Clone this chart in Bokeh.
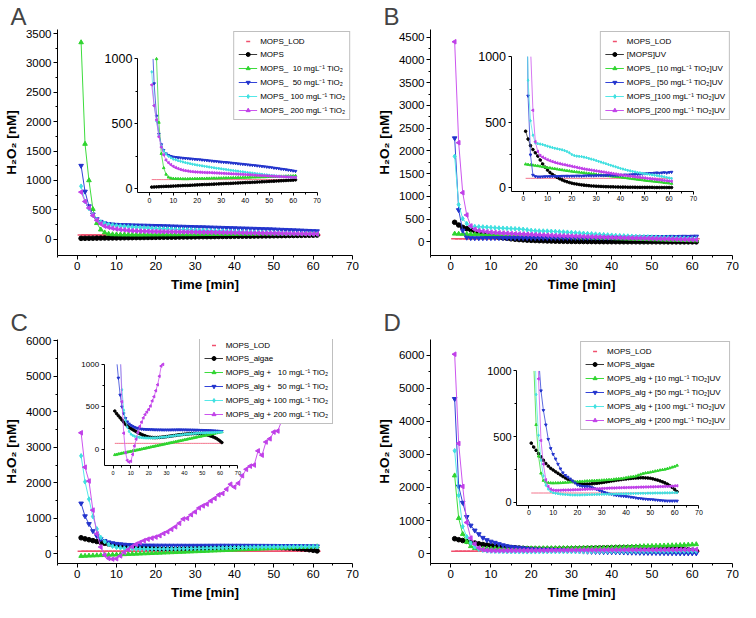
from bokeh.plotting import figure
from bokeh.models import Range1d, LinearAxis, FixedTicker, Legend, LegendItem
from bokeh.layouts import gridplot
from bokeh.embed import file_html
from bokeh.resources import INLINE
import math

FONT = "Liberation Sans"

# ---------------- data ----------------
t = list(range(1, 62))          # time [min]
LOD = 70                        # MOPS_LOD [nM]

# Panel A
A_mops = [12,13,14,15,16,17,18,18,19,20, 21,22,23,24,25,25,26,27,28,29,
          30,31,32,32,33,34,35,36,37,38, 39,40,40,41,42,43,44,45,46,47,
          48,48,49,50,51,52,53,54,55,56, 57,58,59,60,61,62,63,64,65,66, 68]
A_10 = [3350,1620,1000,510,270,160,110,88,80,78, 77,76,76,75,75,75,76,76,77,77,
        78,78,78,79,79,80,80,80,81,81, 82,82,83,83,84,84,85,85,86,86,
        87,87,88,88,89,89,90,90,91,92, 92,93,93,94,95,95,96,97,97,98, 100]
A_50 = [1250,810,560,420,340,295,270,258,250,245, 242,240,238,236,234,232,231,229,227,225,
        224,222,220,218,216,214,212,210,208,206, 204,203,201,199,197,195,193,191,189,187,
        185,183,181,179,177,175,172,170,168,166, 163,160,158,155,152,150,147,144,141,138, 135]
A_100 = [900,640,520,410,330,290,268,250,238,228, 222,216,211,206,201,197,193,189,185,182,
         179,176,173,170,167,164,161,158,156,153, 150,148,145,142,140,137,135,132,130,127,
         125,122,120,118,115,113,111,108,106,104, 102,100,98,96,95,93,92,91,90,89, 88]
A_200 = [800,640,530,400,320,260,220,200,185,172, 162,155,148,143,139,136,133,131,129,128,
         127,126,125,124,124,123,122,121,120,119, 118,117,116,115,114,113,112,111,110,109,
         108,107,106,104,103,102,101,100,99,98, 97,96,95,94,93,92,91,90,89,88, 87]

# Panel B
B_mops = [430,370,320,290,265,240,210,180,155,133, 115,100,88,77,67,58,50,44,38,33,
          29,26,23,20,18,16,14,12,11,10, 9,8,7,6,6,5,5,4,4,3,
          3,3,2,2,2,2,1,1,1,1, 1,1,1,0,0,0,0,0,0,0, 0]
B_10 = [178,175,172,170,168,165,162,158,155,152, 149,146,143,140,137,134,131,128,126,123,
        121,118,116,114,111,109,107,105,103,100, 97,95,93,91,89,87,85,83,81,79,
        76,74,71,69,66,64,61,59,57,54, 52,50,48,46,44,42,40,37,35,33, 30]
B_50 = [2280,700,250,95,85,82,82,83,84,84, 85,85,86,85,86,87,87,88,87,88,
        88,89,89,88,90,90,91,90,90,91, 91,92,91,92,93,93,92,93,94,95,
        95,97,96,98,99,101,100,103,104,106, 107,109,108,111,113,110,113,115,112,116, 118]
B_100 = [1880,820,510,400,340,335,332,328,322,316, 310,305,300,296,292,288,282,275,265,252,
         244,240,238,236,232,228,222,217,212,206, 200,194,188,182,176,170,164,158,152,146,
         141,136,131,127,123,119,115,112,109,106, 103,100,97,94,91,88,85,81,77,73, 70]
B_200 = [4400,2180,1080,590,350,275,245,232,222,212, 205,198,192,187,182,178,174,170,166,162,
         158,154,150,146,142,139,136,133,130,127, 124,121,118,115,112,109,106,103,100,97,
         94,92,90,87,85,82,80,78,75,73, 70,68,66,64,61,59,57,54,52,50, 48]

# MOPS_algae (panels C and D)
algae = [450,420,395,370,345,320,295,275,258,245, 232,220,208,196,185,175,166,158,150,145,
         141,139,138,138,139,140,142,144,146,149, 152,155,158,161,164,167,170,172,175,177,
         179,181,183,184,185,186,186,185,184,182, 178,173,168,162,155,147,138,127,113,97, 80]

# Panel C
C_10 = [-65,-61,-56,-52,-47,-43,-38,-34,-29,-25, -20,-16,-11,-7,-2,2,7,11,16,21,
        25,30,34,39,43,48,52,57,61,66, 70,75,79,84,88,93,97,102,106,111,
        115,120,124,129,133,138,142,147,151,156, 160,165,169,174,178,183,187,192,196,201, 205]
C_50 = [1420,1060,840,640,500,420,365,325,300,282, 270,260,252,246,242,239,237,235,234,233,
        232,232,231,231,230,230,230,229,229,229, 229,229,230,230,230,231,231,231,230,230,
        230,229,229,228,228,227,227,226,225,225, 224,223,222,221,220,219,218,216,215,213, 212]
C_100 = [2760,2030,1540,1050,700,460,340,260,210,180, 165,155,148,143,140,137,135,134,133,133,
         133,134,135,136,137,139,141,143,145,148, 150,153,156,159,162,165,167,170,172,175,
         177,179,181,183,185,187,189,190,191,192, 193,194,195,196,197,198,199,200,201,202, 203]
C_200 = [3410,2440,2050,1230,560,190,-40,-130,-150,-140, -60,40,120,200,270,320,370,410,440,470,
         510,570,620,690,760,860,980,1000,1100,1180, 1290,1350,1400,1490,1560,1660,1700,1820,1960,1880,
         1990,2200,2380,2470,2500,2900,2780,3150,3240,3430, 3460,3750,3900,3970,4200,4230,4450,4700,4880,4950, 5350]

# Panel D
D_10 = [2360,1070,590,350,220,165,152,148,146,145, 146,146,147,148,150,151,152,154,155,157,
        158,158,160,161,162,163,164,165,166,167, 168,170,171,172,174,176,178,180,182,186,
        190,192,195,198,205,212,218,222,225,228, 232,236,240,244,247,250,255,260,266,272, 280]
D_50 = [4680,2030,1540,1110,850,700,590,480,410,365, 330,290,255,225,205,192,178,163,148,132,
        126,122,120,120,118,112,105,98,90,83, 76,70,64,60,56,52,50,48,46,44,
        42,39,36,33,30,28,26,24,22,21, 20,18,16,14,12,11,10,10,10,10, 10]
D_100 = [3110,1760,820,510,320,200,130,100,82,72, 68,65,62,60,58,57,56,55,55,55,
         55,56,56,57,57,58,58,59,59,60, 60,61,61,62,62,63,63,64,64,65,
         65,66,66,67,67,68,68,68,69,69, 69,70,70,70,70,71,71,71,72,72, 72]
D_200 = [6030,3330,2030,940,470,290,170,120,100,92, 90,90,91,92,92,93,93,94,95,95,
         96,97,98,99,100,100,101,102,103,104, 105,106,107,108,108,109,110,110,111,111,
         112,112,113,113,114,115,115,116,116,117, 117,118,118,119,119,120,120,121,122,124, 125]

SUP = "mgL\u207b\u00b9 TiO\u2082"
labels_A = ["MOPS_LOD", "MOPS", "MOPS_  10 " + SUP, "MOPS_  50 " + SUP,
            "MOPS_ 100 " + SUP, "MOPS_ 200 " + SUP]
labels_B = ["MOPS_LOD", "[MOPS]UV", "MOPS_ [10 " + SUP + "]UV", "MOPS_ [50 " + SUP + "]UV",
            "MOPS_[100 " + SUP + "]UV", "MOPS_[200 " + SUP + "]UV"]
labels_C = ["MOPS_LOD", "MOPS_algae", "MOPS_alg +   10 " + SUP, "MOPS_alg +   50 " + SUP,
            "MOPS_alg + 100 " + SUP, "MOPS_alg + 200 " + SUP]
labels_D = ["MOPS_LOD", "MOPS_algae", "MOPS_alg + [10 " + SUP + "]UV", "MOPS_alg + [50 " + SUP + "]UV",
            "MOPS_alg + [100 " + SUP + "]UV", "MOPS_alg + [200 " + SUP + "]UV"]

# styles: (line color, marker color, marker, angle)
STY = [("#F0506E", "#F0506E", "dash", 0.0),
       ("#3a3a3a", "#000000", "circle", 0.0),
       ("#3ddc3d", "#2fd42f", "triangle", 0.0),
       ("#3344d8", "#2233cc", "inverted_triangle", 0.0),
       ("#55e8e8", "#3fe0e0", "diamond", 0.0),
       ("#cc55ee", "#c040e8", "triangle", math.pi / 2)]


def extra_range(u0, u1, m0, m1, M0, M1):
    s = (u1 - u0) / (m1 - m0)
    return Range1d(u0 + (M0 - m0) * s, u0 + (M1 - m0) * s)


def clip_poly(xs, ys, lo, hi):
    px, py = [], []
    cur = [[], []]

    def flush():
        if len(cur[0]) > 1:
            px.append(cur[0]); py.append(cur[1])
        cur[0], cur[1] = [], []

    for i in range(1, len(xs)):
        x0, y0, x1, y1 = xs[i - 1], ys[i - 1], xs[i], ys[i]
        if y1 == y0:
            sa, sb = (0.0, 1.0) if lo <= y0 <= hi else (1.0, 0.0)
        else:
            s1 = (lo - y0) / (y1 - y0)
            s2 = (hi - y0) / (y1 - y0)
            sa, sb = max(0.0, min(s1, s2)), min(1.0, max(s1, s2))
        if sa < sb:
            ax, ay = x0 + sa * (x1 - x0), y0 + sa * (y1 - y0)
            bx, by = x0 + sb * (x1 - x0), y0 + sb * (y1 - y0)
            if sa > 0 or not cur[0]:
                flush()
                cur[0], cur[1] = [ax], [ay]
            cur[0].append(bx); cur[1].append(by)
            if sb < 1:
                flush()
        else:
            flush()
    flush()
    return px, py


def style_axis(ax, fs, label_fs=None):
    ax.axis_line_color = "black"
    ax.axis_line_width = 1
    ax.major_tick_line_color = "black"
    ax.minor_tick_line_color = "black"
    ax.major_tick_in = 0
    ax.minor_tick_in = 0
    ax.major_label_text_font = FONT
    ax.major_label_text_font_size = fs
    ax.major_label_text_color = "black"
    if label_fs:
        ax.axis_label_text_font = FONT
        ax.axis_label_text_font_size = label_fs
        ax.axis_label_text_font_style = "bold"
        ax.axis_label_text_color = "black"


def panel(letter, series, labels, yr, yticks, yminor, inset, leg_loc, w, h, borders,
          title_standoff, inset_fs):
    bl, br, bt, bb = borders
    p = figure(width=w, height=h, x_range=Range1d(-5, 70), y_range=Range1d(*yr),
               output_backend="svg", toolbar_location=None,
               min_border_left=bl, min_border_right=br, min_border_top=bt, min_border_bottom=bb)
    p.outline_line_color = None
    p.grid.visible = False
    p.background_fill_color = "white"
    p.border_fill_color = "white"
    p.title.text = letter
    p.title.text_font = FONT
    p.title.text_font_size = "24px"
    p.title.text_font_style = "normal"
    p.title.align = "left"
    p.title.offset = -47
    p.title.standoff = title_standoff

    xa = p.xaxis[0]
    ya = p.yaxis[0]
    xa.ticker = FixedTicker(ticks=[0, 10, 20, 30, 40, 50, 60, 70],
                            minor_ticks=[-5, 5, 15, 25, 35, 45, 55, 65])
    ya.ticker = FixedTicker(ticks=yticks, minor_ticks=yminor)
    for ax in (xa, ya):
        style_axis(ax, "11.5px", "13.5px")
        ax.major_tick_out = 4
        ax.minor_tick_out = 2
        ax.major_label_standoff = 2
        ax.axis_label_standoff = 4
    xa.axis_label = "Time [min]"
    ya.axis_label = "H\u2082O\u2082 [nM]"

    (ix0, ix1, mx0, mx1), (iy0, iy1, my0, my1) = inset
    p.extra_x_ranges = {"ix": extra_range(ix0, ix1, mx0, mx1, -5, 70)}
    p.extra_y_ranges = {"iy": extra_range(iy0, iy1, my0, my1, yr[0], yr[1])}

    items = []
    for vals, (lc, mc, mk, ang), lab in zip(series, STY, labels):
        lr = p.line(t, vals, line_color=lc, line_width=1)
        if mk == "dash":
            sr = p.scatter(t, vals, marker="dash", size=7, line_color=mc, line_width=1.5)
            items.append(LegendItem(label=lab, renderers=[sr]))
        else:
            sr = p.scatter(t, vals, marker=mk, angle=ang, size=4.6, fill_color=mc, line_color=mc)
            items.append(LegendItem(label=lab, renderers=[lr, sr]))
        px, py = clip_poly(t, vals, iy0, iy1)
        if px:
            p.multi_line(px, py, x_range_name="ix", y_range_name="iy", line_color=lc, line_width=0.8)
        if mk != "dash":
            mx = [x for x, y in zip(t, vals) if iy0 <= y <= iy1]
            my = [y for y in vals if iy0 <= y <= iy1]
            p.scatter(mx, my, marker=mk, angle=ang, size=2.6, fill_color=mc, line_color=mc,
                      x_range_name="ix", y_range_name="iy")

    iya = LinearAxis(x_range_name="ix", y_range_name="iy", fixed_location=ix0, bounds=(iy0, iy1),
                     ticker=FixedTicker(ticks=[0, 500, 1000], minor_ticks=[250, 750]))
    style_axis(iya, inset_fs[0])
    iya.major_tick_out = 3
    iya.minor_tick_out = 2
    iya.major_label_standoff = 2
    p.add_layout(iya, "left")
    ixa = LinearAxis(x_range_name="ix", y_range_name="iy", fixed_location=iy0, bounds=(ix0, ix1),
                     ticker=FixedTicker(ticks=[0, 10, 20, 30, 40, 50, 60, 70],
                                        minor_ticks=[5, 15, 25, 35, 45, 55, 65]))
    style_axis(ixa, inset_fs[1])
    ixa.major_tick_out = 3
    ixa.minor_tick_out = 2
    ixa.major_label_standoff = 2
    p.add_layout(ixa, "below")

    n = len(items)
    leg_h = 2 * 4 + n * 10 + (n - 1) * 3
    if isinstance(leg_loc, str):
        loc = leg_loc
    else:
        W = w - bl - br
        H = h - bt - bb
        loc = (leg_loc * W, H - leg_h - 3)
    leg = Legend(items=items, location=loc)
    leg.label_text_font = FONT
    leg.label_text_font_size = "8px"
    leg.label_text_color = "black"
    leg.glyph_width = 19
    leg.glyph_height = 10
    leg.label_height = 10
    leg.label_standoff = 3
    leg.spacing = 3
    leg.padding = 4
    leg.margin = 2
    leg.border_line_color = "#7f7f7f"
    leg.border_line_width = 1
    leg.background_fill_color = "white"
    leg.background_fill_alpha = 1
    p.add_layout(leg)
    return p


pA = panel("A", [[LOD] * len(t), A_mops, A_10, A_50, A_100, A_200], labels_A,
           (-280, 3570), list(range(0, 3501, 500)), list(range(250, 3500, 500)),
           ((-5, 70, 15.3, 61.0), (-30, 1000, 792, 3069)), "top_right",
           368, 294, (50, 16, 28, 38), 0, ("12.5px", "7px"))
pB = panel("B", [[LOD] * len(t), B_mops, B_10, B_50, B_100, B_200], labels_B,
           (-300, 4670), list(range(0, 4501, 500)), list(range(250, 4500, 500)),
           ((-5, 70, 15.0, 60.3), (-30, 1000, 1109, 4073)), "top_right",
           372, 294, (62, 8, 28, 38), 0, ("12.5px", "6.5px"))
pC = panel("C", [[LOD] * len(t), algae, C_10, C_50, C_100, C_200], labels_C,
           (-275, 6040), list(range(0, 6001, 1000)), list(range(500, 6000, 1000)),
           ((-5, 70, 6.85, 40.87), (-195, 1000, 2477, 5340)), 0.469,
           368, 308, (50, 16, 45, 38), 8, ("8px", "5.5px"))
pD = panel("D", [[LOD] * len(t), algae, D_10, D_50, D_100, D_200], labels_D,
           (-300, 6475), list(range(0, 6001, 1000)), list(range(500, 6000, 1000)),
           ((-5, 70, 16.4, 61.67), (-25, 1000, 1455, 5524)), "top_right",
           372, 308, (62, 8, 45, 38), 8, ("11px", "7px"))

grid = gridplot([[pA, pB], [pC, pD]], toolbar_location=None)
open("out.html", "w").write(file_html(grid, INLINE))
